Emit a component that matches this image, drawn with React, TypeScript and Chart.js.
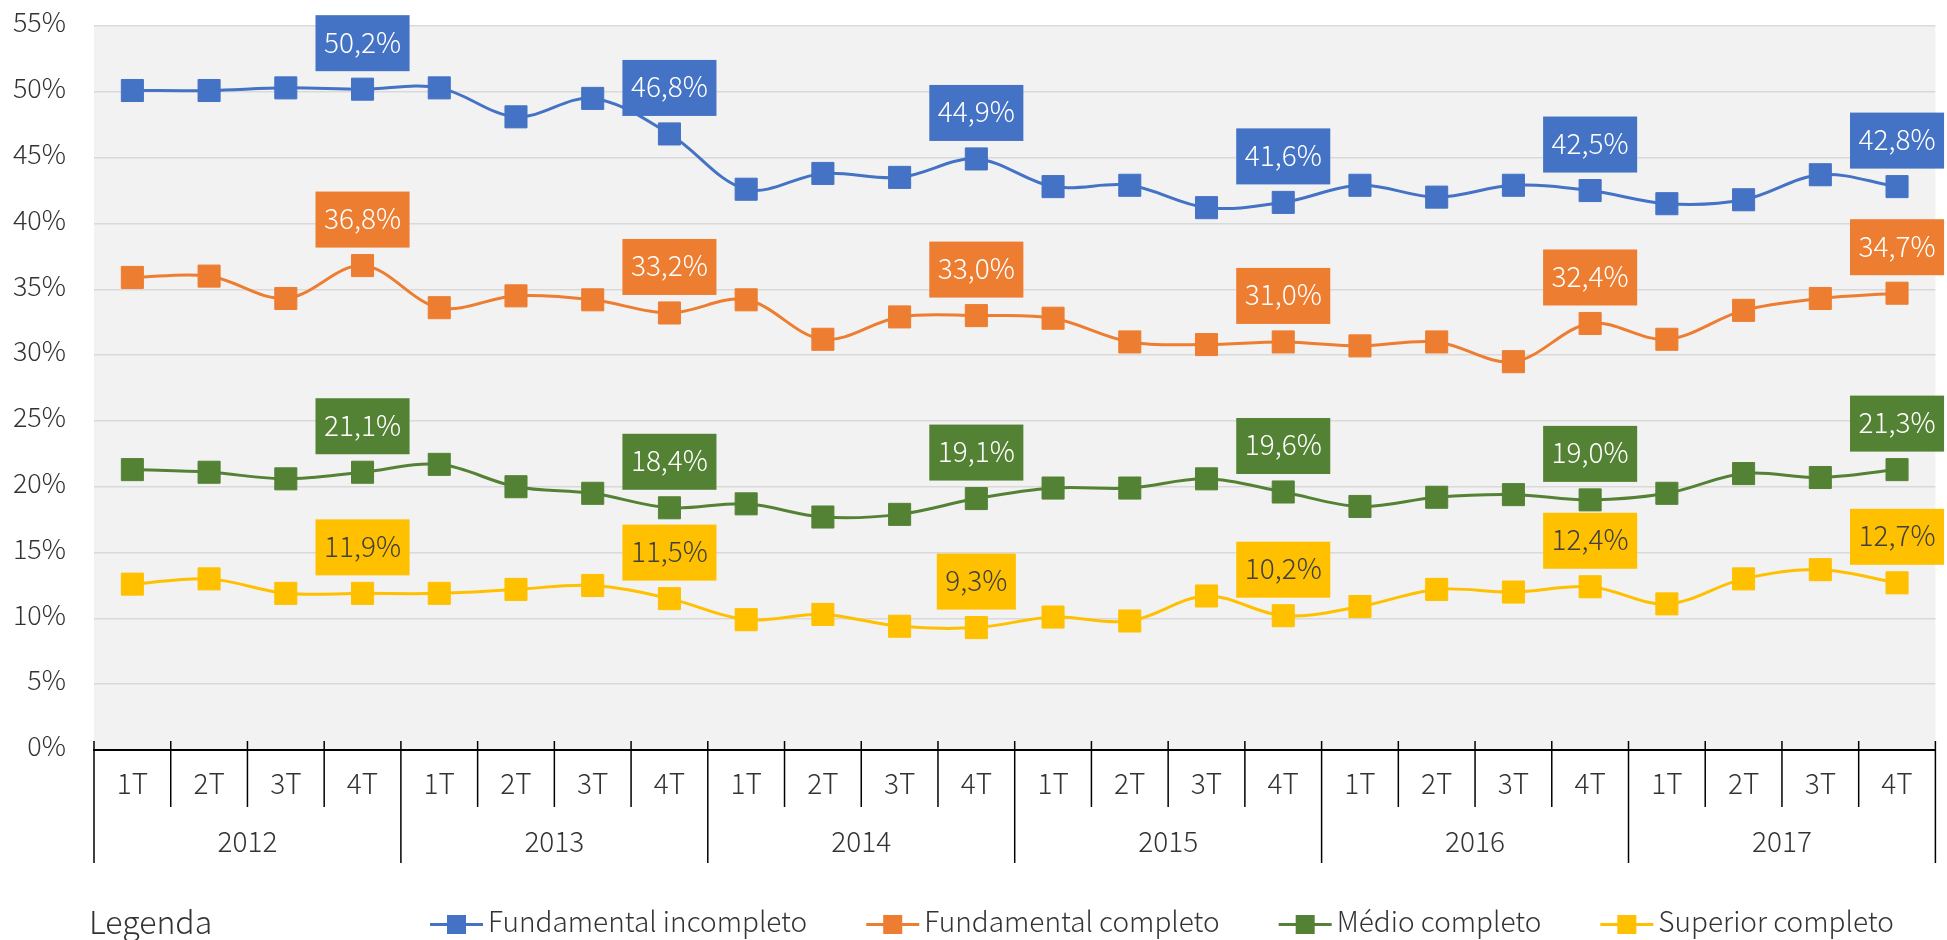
import { useEffect, useRef } from 'react';
import { Chart, registerables } from 'chart.js';

Chart.register(...registerables);

const FONT = "'Noto Sans CJK JP', 'Noto Sans', sans-serif";
const TEXT = '#333333';

const years = ['2012', '2013', '2014', '2015', '2016', '2017'];
const quarters = ['1T', '2T', '3T', '4T'];
const labelledQuarter = '4T';

const seriesNames = ['Fundamental incompleto', 'Fundamental completo', 'Médio completo', 'Superior completo'];
const seriesColors = ['#4472C4', '#ED7D31', '#548235', '#FFC000'];
const labelTextColors = ['#FFFFFF', '#FFFFFF', '#FFFFFF', '#404040'];

const fundamentalIncompleto = [
  50.1, 50.1, 50.3, 50.2,
  50.3, 48.1, 49.5, 46.8,
  42.6, 43.8, 43.5, 44.9,
  42.8, 42.9, 41.2, 41.6,
  42.9, 42.0, 42.9, 42.5,
  41.5, 41.8, 43.7, 42.8,
];
const fundamentalCompleto = [
  35.9, 36.0, 34.3, 36.8,
  33.6, 34.5, 34.2, 33.2,
  34.2, 31.2, 32.9, 33.0,
  32.8, 31.0, 30.8, 31.0,
  30.7, 31.0, 29.5, 32.4,
  31.2, 33.4, 34.3, 34.7,
];
const medioCompleto = [
  21.3, 21.1, 20.6, 21.1,
  21.7, 20.0, 19.5, 18.4,
  18.7, 17.7, 17.9, 19.1,
  19.9, 19.9, 20.6, 19.6,
  18.5, 19.2, 19.4, 19.0,
  19.5, 21.0, 20.7, 21.3,
];
const superiorCompleto = [
  12.6, 13.0, 11.9, 11.9,
  11.9, 12.2, 12.5, 11.5,
  9.9, 10.3, 9.4, 9.3,
  10.1, 9.8, 11.7, 10.2,
  10.9, 12.2, 12.0, 12.4,
  11.1, 13.0, 13.7, 12.7,
];

const seriesValues = [fundamentalIncompleto, fundamentalCompleto, medioCompleto, superiorCompleto];
const categoryLabels = years.flatMap(() => quarters);

const fmt = (v: number) => v.toFixed(1).replace('.', ',') + '%';

const plotBgPlugin = {
  id: 'plotBg',
  beforeDraw(chart: any) {
    const { ctx, chartArea: a } = chart;
    ctx.save();
    ctx.fillStyle = '#F2F2F2';
    ctx.fillRect(a.left, a.top, a.right - a.left, a.bottom - a.top);
    ctx.restore();
  },
};

const dataLabelPlugin = {
  id: 'boxLabels',
  afterDatasetsDraw(chart: any) {
    const { ctx } = chart;
    ctx.save();
    ctx.font = `300 28px ${FONT}`;
    ctx.textAlign = 'center';
    ctx.textBaseline = 'alphabetic';
    chart.data.datasets.forEach((ds: any, di: number) => {
      const meta = chart.getDatasetMeta(di);
      meta.data.forEach((pt: any, i: number) => {
        if (categoryLabels[i] !== labelledQuarter) return;
        const text = fmt(ds.data[i]);
        const w = ctx.measureText(text).width + 17;
        const h = 56;
        const bottom = pt.y - 18;
        ctx.fillStyle = seriesColors[di];
        ctx.fillRect(pt.x - w / 2, bottom - h, w, h);
        ctx.fillStyle = labelTextColors[di];
        ctx.fillText(text, pt.x, bottom - h / 2 + 9.5);
      });
    });
    ctx.restore();
  },
};

const axisLegendPlugin = {
  id: 'axisLegend',
  afterDraw(chart: any) {
    const { ctx, chartArea: a } = chart;
    const x = chart.scales.x;
    const n = categoryLabels.length;
    const step = x.getPixelForValue(1) - x.getPixelForValue(0);
    ctx.save();
    ctx.strokeStyle = '#000000';
    ctx.lineWidth = 1.5;
    for (let i = 0; i <= n; i++) {
      const px = i < n ? x.getPixelForValue(i) - step / 2 : x.getPixelForValue(n - 1) + step / 2;
      const isYear = i % quarters.length === 0;
      ctx.beginPath();
      ctx.moveTo(px, a.bottom - 9);
      ctx.lineTo(px, a.bottom + (isYear ? 113 : 57));
      ctx.stroke();
    }
    // year labels
    ctx.fillStyle = TEXT;
    ctx.font = `300 28px ${FONT}`;
    ctx.textAlign = 'center';
    ctx.textBaseline = 'alphabetic';
    years.forEach((yr, j) => {
      const first = j * quarters.length;
      const last = first + quarters.length - 1;
      const cx = (x.getPixelForValue(first) + x.getPixelForValue(last)) / 2;
      ctx.fillText(yr, cx, a.bottom + 102);
    });
    // legend
    ctx.textAlign = 'left';
    ctx.font = `300 32px ${FONT}`;
    ctx.fillText('Legenda', 89, 934);
    ctx.font = `300 28px ${FONT}`;
    let lx = 430;
    const ly = 924.5;
    seriesNames.forEach((name, si) => {
      ctx.strokeStyle = seriesColors[si];
      ctx.lineWidth = 3;
      ctx.beginPath();
      ctx.moveTo(lx, ly);
      ctx.lineTo(lx + 53, ly);
      ctx.stroke();
      ctx.fillStyle = seriesColors[si];
      ctx.fillRect(lx + 17, ly - 9.5, 19, 19);
      ctx.fillStyle = TEXT;
      ctx.fillText(name, lx + 58, 931.5);
      lx += 58 + ctx.measureText(name).width + 59;
    });
    ctx.restore();
  },
};

export default function App() {
  const ref = useRef<HTMLCanvasElement>(null);
  useEffect(() => {
    if (!ref.current) return;
    const chart = new Chart(ref.current, {
      type: 'line',
      data: {
        labels: categoryLabels,
        datasets: seriesNames.map((name, si) => ({
          label: name,
          data: seriesValues[si],
          borderColor: seriesColors[si],
          backgroundColor: seriesColors[si],
          borderWidth: 3,
          tension: 0.35,
          pointStyle: 'rect',
          pointRadius: 15.6,
          pointBorderWidth: 1,
          pointBorderColor: seriesColors[si],
          pointBackgroundColor: seriesColors[si],
          fill: false,
          clip: false as any,
        })),
      },
      options: {
        responsive: false,
        devicePixelRatio: 1,
        animation: false,
        layout: { padding: { top: 26, left: 0, right: 0, bottom: 0 } },
        plugins: {
          legend: { display: false },
          tooltip: { enabled: false },
          title: { display: false },
        },
        scales: {
          x: {
            type: 'category',
            offset: true,
            grid: { display: false, drawTicks: false },
            border: { display: true, color: '#000000', width: 2 },
            ticks: {
              font: { size: 28, family: FONT, weight: '300' as any },
              color: TEXT,
              padding: 17,
              maxRotation: 0,
              autoSkip: false,
            },
            afterFit: (s: any) => {
              s.height = 190;
              s.paddingLeft = 0;
              s.paddingRight = 0;
            },
          },
          y: {
            min: 0,
            max: 55,
            ticks: {
              stepSize: 5,
              callback: (v: any) => v + '%',
              font: { size: 27, family: FONT, weight: '300' as any },
              color: TEXT,
              padding: 28,
              labelOffset: -4,
            },
            grid: { color: '#D9D9D9', lineWidth: 1.5, drawTicks: false },
            border: { display: false },
            afterFit: (s: any) => {
              s.width = 94;
              s.paddingTop = 0;
              s.paddingBottom = 0;
            },
          },
        },
      },
      plugins: [plotBgPlugin, dataLabelPlugin, axisLegendPlugin],
    });
    return () => chart.destroy();
  }, []);
  return (
    <div style={{ position: 'fixed', left: 0, top: 0, width: 1952, height: 940, overflow: 'hidden', background: '#fff' }}>
      <canvas ref={ref} width={1952} height={940} style={{ display: 'block', width: 1952, height: 940 }} />
    </div>
  );
}
